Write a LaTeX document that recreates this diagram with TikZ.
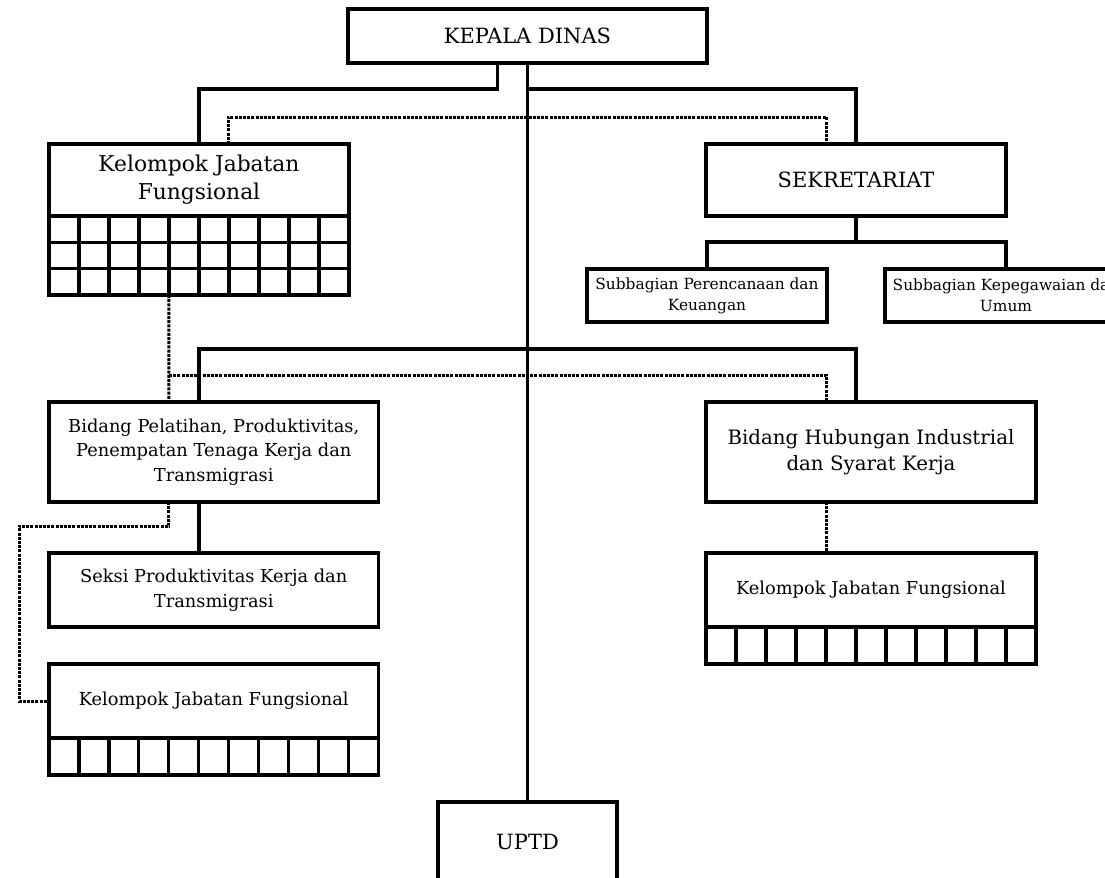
\documentclass[tikz,border=0pt]{standalone}
\usepackage{fontspec}
\setmainfont{DejaVu Serif}
\usetikzlibrary{calc}
\tikzset{
  box/.style={draw=linecolor,line width=1.6pt,fill=fillcolor,align=center,inner sep=0pt,outer sep=0pt},
  bigtext/.style={font=\fontsize{10.5}{14}\selectfont},
  kjftext/.style={font=\fontsize{10.9}{14}\selectfont},
  hubtext/.style={font=\fontsize{9.9}{13.3}\selectfont},
  midtext/.style={font=\fontsize{8.9}{12.3}\selectfont},
  smalltext/.style={font=\fontsize{7.7}{10.5}\selectfont},
  link/.style={draw=linecolor,line width=1.6pt},
  dotlink/.style={draw=linecolor,line width=1.5pt,dash pattern=on 1.5pt off 0.6pt},
  cell/.style={draw=linecolor,line width=1.6pt}
}
\begin{document}
\begin{tikzpicture}[x=0.5pt,y=-0.5pt]
\definecolor{linecolor}{RGB}{0,0,0}
\definecolor{fillcolor}{RGB}{255,255,255}
\useasboundingbox (0,0) rectangle (1105,878);
\clip (0,0) rectangle (1105,878);
\node (kepala) [box,bigtext,minimum width=179.5pt,minimum height=27pt] at (527.5,36) {KEPALA DINAS};
\node (kjfa) [box,kjftext,minimum width=150pt,minimum height=36pt] at (199,180) {Kelompok Jabatan\\Fungsional};
\node (sekr) [box,bigtext,minimum width=150pt,minimum height=36pt] at (856,180) {SEKRETARIAT};
\node (subrenc) [box,smalltext,minimum width=120pt,minimum height=26.5pt] at (707,295.5) {Subbagian Perencanaan dan\\Keuangan};
\node (subpeg) [box,smalltext,minimum width=121pt,minimum height=26.5pt] at (1006,295.5) {Subbagian Kepegawaian dan\\Umum};
\node (bidlat) [box,midtext,minimum width=164.75pt,minimum height=50pt] at (213.75,452) {Bidang Pelatihan, Produktivitas,\\Penempatan Tenaga Kerja dan\\Transmigrasi};
\node (bidhub) [box,hubtext,minimum width=165pt,minimum height=50pt] at (871,452) {Bidang Hubungan Industrial\\dan Syarat Kerja};
\node (seksi) [box,midtext,minimum width=164.75pt,minimum height=37pt] at (213.75,590) {Seksi Produktivitas Kerja dan\\Transmigrasi};
\node (kjfb) [box,midtext,minimum width=164.75pt,minimum height=37pt] at (213.75,701) {Kelompok Jabatan Fungsional};
\node (kjfc) [box,midtext,minimum width=165pt,minimum height=37pt] at (871,590) {Kelompok Jabatan Fungsional};
\node (uptd) [box,bigtext,minimum width=89.5pt,minimum height=40pt] at (527.5,842) {UPTD};
\foreach \c in {0,...,9}
  \foreach \r in {0,1,2}
    \draw [cell] ($(kjfa.south west)+(\c*30,\r*26.33)$) rectangle ++(30,26.33);
\foreach \c in {0,...,10}
  \draw [cell] ($(kjfb.south west)+(\c*29.95,0)$) rectangle ++(29.95,37);
\foreach \c in {0,...,10}
  \draw [cell] ($(kjfc.south west)+(\c*30,0)$) rectangle ++(30,37);
\coordinate (kjfabot) at ($(kjfa.south)+(-30,79)$);
\coordinate (topbar) at ($(kepala.south)+(0,26)$);
\coordinate (midbar) at (527.5,349);
\draw [link] (kepala.south) -- (uptd.north);
\draw [link] ([xshift=-15pt]kepala.south) -- ++(0,26) -| (kjfa.north);
\draw [link] (topbar) -| (sekr.north);
\draw [dotlink] ([xshift=14.5pt]kjfa.north) -- ++(0,-27) -| ([xshift=-14.75pt]sekr.north);
\draw [link] (sekr.south) -- ++(0,26) coordinate (sekbar) -| (subrenc.north);
\draw [link] (sekbar) -| (subpeg.north);
\draw [link] (midbar) -| ([xshift=-7.4pt]bidlat.north);
\draw [link] (midbar) -| ([xshift=-7.5pt]bidhub.north);
\draw [dotlink] (kjfabot) -- ([xshift=-22.4pt]bidlat.north);
\draw [dotlink] ($(kjfabot)+(0,80)$) -| ([xshift=-22.25pt]bidhub.north);
\draw [link] ([xshift=-7.4pt]bidlat.south) -- ([xshift=-7.4pt]seksi.north);
\draw [dotlink] ([xshift=-22.4pt]bidlat.south) -- ++(0,24) -| ([xshift=-15pt]kjfb.west) -- (kjfb.west);
\draw [dotlink] ([xshift=-22.25pt]bidhub.south) -- ([xshift=-22.25pt]kjfc.north);
\end{tikzpicture}
\end{document}
